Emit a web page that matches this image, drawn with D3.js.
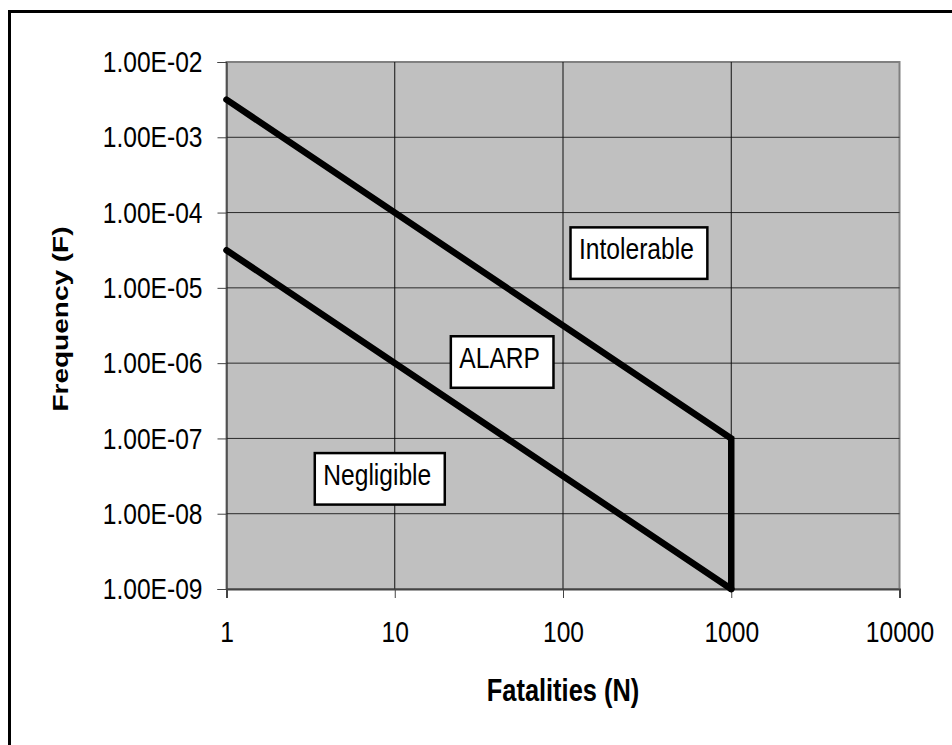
<!DOCTYPE html>
<html>
<head>
<meta charset="utf-8">
<script src="https://cdn.jsdelivr.net/npm/d3@7"></script>
<style>
  html, body { margin: 0; padding: 0; background: #fff; }
  svg { display: block; font-family: "Liberation Sans", Arial, sans-serif; }
</style>
</head>
<body>
<svg id="chart" width="952" height="745"></svg>
<script>
// F-N criterion lines (fatalities N vs frequency F)
const upperN = [1, 1000, 1000];
const upperF = [3.16e-3, 1e-7, 1e-9];
const lowerN = [1, 1000];
const lowerF = [3.16e-5, 1e-9];

const xTicks = [1, 10, 100, 1000, 10000];
const yTicks = [1e-2, 1e-3, 1e-4, 1e-5, 1e-6, 1e-7, 1e-8, 1e-9];

const regionNames = ["Intolerable", "ALARP", "Negligible"];
const regionN = [124.5, 24.2, 3.76];
const regionF = [2.39e-5, 8.55e-7, 2.4e-8];

const SQ = 0.82; // glyphs in the picture are narrower than they are tall

const svg = d3.select("#chart");
const plotL = 226.5, plotR = 899.5, plotT = 62, plotB = 589;

const x = d3.scaleLog().domain([1, 10000]).range([plotL, plotR]);
const y = d3.scaleLog().domain([1e-9, 1e-2]).range([plotB, plotT]);

function squash(sel) {
	sel.each(function () {
		const t = d3.select(this);
		const tx = +t.attr("x") || 0;
		t.attr("transform", `translate(${tx},0) scale(${SQ},1) translate(${-tx},0)`);
	});
}

// outer frame (right and bottom edges fall off the page)
svg.append("rect")
	.attr("x", 9.5).attr("y", 11.5)
	.attr("width", 1000).attr("height", 1000)
	.attr("fill", "none").attr("stroke", "#000").attr("stroke-width", 3);

// plot area
svg.append("rect")
	.attr("x", plotL).attr("y", plotT)
	.attr("width", plotR - plotL).attr("height", plotB - plotT)
	.attr("fill", "#c0c0c0").attr("stroke", "#808080").attr("stroke-width", 2);

// grid
svg.append("g")
	.selectAll("line")
	.data(yTicks.slice(1, -1))
	.join("line")
	.attr("x1", plotL).attr("x2", plotR)
	.attr("y1", d => y(d)).attr("y2", d => y(d))
	.attr("stroke", "#2a2a2a").attr("stroke-width", 1);

svg.append("g")
	.selectAll("line")
	.data(xTicks.slice(1, -1))
	.join("line")
	.attr("x1", d => x(d)).attr("x2", d => x(d))
	.attr("y1", plotT).attr("y2", plotB)
	.attr("stroke", "#111").attr("stroke-width", 1);

// axes
const yAxis = svg.append("g")
	.attr("transform", `translate(${plotL},0)`)
	.call(d3.axisLeft(y)
		.tickValues(yTicks)
		.tickSize(9)
		.tickPadding(15)
		.tickFormat(d => "1.00E-" + String(Math.round(-Math.log10(d))).padStart(2, "0")));
yAxis.select(".domain").attr("stroke", "#222").attr("stroke-width", 1);
yAxis.selectAll(".tick line").attr("stroke", "#444");
yAxis.selectAll("text")
	.attr("font-size", 30).attr("fill", "#000")
	.call(squash);

const xAxis = svg.append("g")
	.attr("transform", `translate(0,${plotB})`)
	.call(d3.axisBottom(x)
		.tickValues(xTicks)
		.tickSize(9)
		.tickPadding(23)
		.tickFormat(d3.format("d")));
xAxis.select(".domain").attr("stroke", "#444").attr("stroke-width", 2);
xAxis.selectAll(".tick line").attr("stroke", "#444");
xAxis.selectAll("text")
	.attr("font-size", 30).attr("fill", "#000")
	.call(squash);

svg.selectAll(".tick text, g[font-family]").attr("font-family", null);
svg.selectAll("g[font-size]").attr("font-size", null);

// axis titles
svg.append("text")
	.attr("x", 563).attr("y", 701)
	.attr("text-anchor", "middle")
	.attr("font-size", 31).attr("font-weight", "bold")
	.text("Fatalities (N)")
	.call(squash);

svg.append("text")
	.attr("transform", `translate(68,319) rotate(-90) scale(1,${SQ})`)
	.attr("text-anchor", "middle")
	.attr("font-size", 28).attr("font-weight", "bold")
	.text("Frequency (F)");

// criterion lines
const line = d3.line().x(d => x(d[0])).y(d => y(d[1]));
[[upperN, upperF], [lowerN, lowerF]].forEach(([ns, fs]) => {
	svg.append("path")
		.datum(d3.zip(ns, fs))
		.attr("d", line)
		.attr("fill", "none")
		.attr("stroke", "#000")
		.attr("stroke-width", 6.5)
		.attr("stroke-linecap", "round")
		.attr("stroke-linejoin", "miter");
});

// region labels
regionNames.forEach((name, i) => {
	const tx = x(regionN[i]), ty = y(regionF[i]);
	const g = svg.append("g");
	const rect = g.append("rect");
	const t = g.append("text")
		.attr("x", tx).attr("y", ty)
		.attr("font-size", 30)
		.attr("fill", "#000")
		.text(name)
		.call(squash);
	const w = t.node().getComputedTextLength() * SQ;
	rect.attr("x", tx - 8.5).attr("y", ty - 32)
		.attr("width", w + 22).attr("height", 51.5)
		.attr("fill", "#fff").attr("stroke", "#000").attr("stroke-width", 2.5);
});
</script>
</body>
</html>
